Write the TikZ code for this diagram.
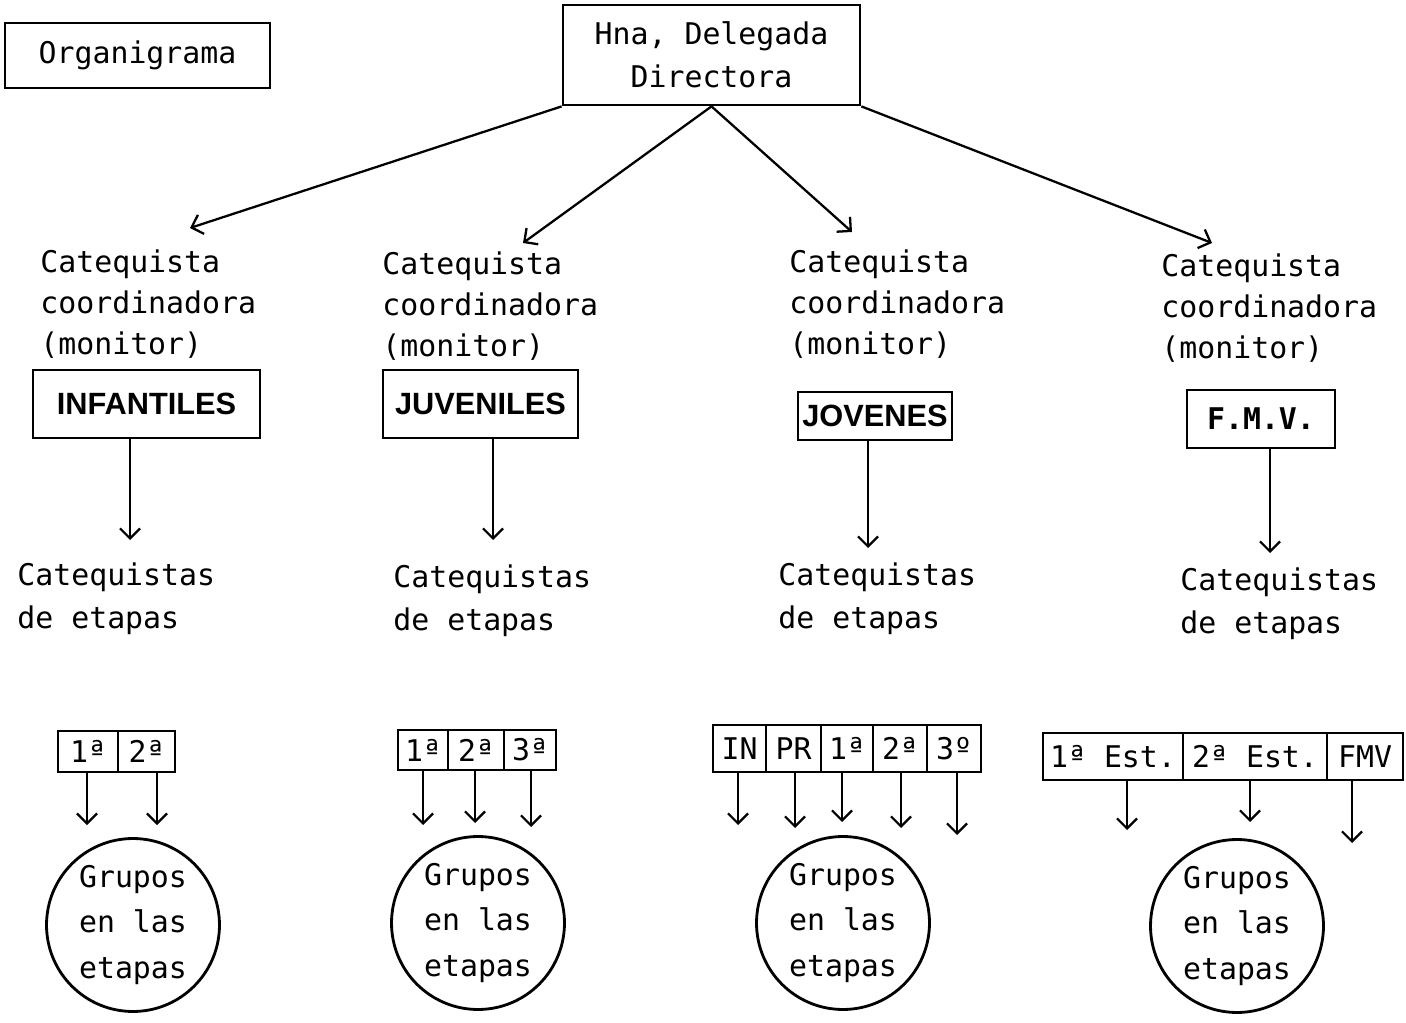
\documentclass[tikz,border=0pt]{standalone}
\usepackage{fontspec}
\setmainfont{DejaVu Sans Mono}
\newfontfamily\catfont{Liberation Sans}
\usetikzlibrary{arrows.meta}
\tikzset{
 txt/.style={inner sep=0pt, anchor=north west, align=left, font=\fontsize{17}{23.4}\selectfont},
 boxnode/.style={draw, line width=1.6pt, inner sep=0pt},
 catbox/.style={boxnode, font=\catfont\bfseries\fontsize{17.5}{20}\selectfont},
 cell/.style={boxnode, font=\fontsize{17}{20}\selectfont},
 grp/.style={circle, draw, line width=1.6pt, minimum size=3.46cm, inner sep=0pt, align=center, font=\fontsize{17}{26}\selectfont},
 arr/.style={line width=1.3pt, -{Straight Barb[length=0.2cm,width=0.4cm]}},
}
\begin{document}
\begin{tikzpicture}[x=0.02cm,y=-0.02cm]
\useasboundingbox (0,0) rectangle (1406,1023);
% top
\node[boxnode, minimum width=5.3cm, minimum height=1.3cm, font=\fontsize{17}{20}\selectfont] (org) at (137.5,55.5) {Organigrama};
\node[boxnode, minimum width=5.94cm, minimum height=2.0cm, align=center, font=\fontsize{17}{24.5}\selectfont] (dir) at (711.5,55) {Hna, Delegada\\Directora};
% arrow tips
\coordinate (a1) at (190,228);
\coordinate (a2) at (523,243);
\coordinate (a3) at (852,232);
\coordinate (a4) at (1212,243);
\draw[arr] (dir.south west) -- (a1);
\draw[arr] (dir.south) -- (a2);
\draw[arr] (dir.south) -- (a3);
\draw[arr] (dir.south east) -- (a4);
% catequista coordinadora
\node[txt] (c1) at (40,249) {Catequista\\coordinadora\\(monitor)};
\node[txt] (c2) at (382,251) {Catequista\\coordinadora\\(monitor)};
\node[txt] (c3) at (789,249) {Catequista\\coordinadora\\(monitor)};
\node[txt] (c4) at (1161,253) {Catequista\\coordinadora\\(monitor)};
% category boxes
\node[catbox, minimum width=4.54cm, minimum height=1.36cm] (b1) at (146.5,404) {INFANTILES};
\node[catbox, minimum width=3.9cm, minimum height=1.36cm] (b2) at (480.5,404) {JUVENILES};
\node[catbox, minimum width=3.08cm, minimum height=0.96cm] (b3) at (875,416) {JOVENES};
\node[boxnode, minimum width=2.96cm, minimum height=1.16cm, font=\bfseries\fontsize{17}{20}\selectfont] (b4) at (1261,419) {F.M.V.};
% arrows to catequistas de etapas
\coordinate (t1) at (130,540);
\coordinate (t2) at (493,540);
\coordinate (t3) at (868,548);
\coordinate (t4) at (1270,553);
\draw[arr] (b1.south -| t1) -- (t1);
\draw[arr] (b2.south -| t2) -- (t2);
\draw[arr] (b3.south -| t3) -- (t3);
\draw[arr] (b4.south -| t4) -- (t4);
% catequistas de etapas
\node[txt, font=\fontsize{17}{25}\selectfont] (e1) at (17,562) {Catequistas\\de etapas};
\node[txt, font=\fontsize{17}{25}\selectfont] (e2) at (393,564) {Catequistas\\de etapas};
\node[txt, font=\fontsize{17}{25}\selectfont] (e3) at (778,562) {Catequistas\\de etapas};
\node[txt, font=\fontsize{17}{25}\selectfont] (e4) at (1180,567) {Catequistas\\de etapas};
% stage cells col1
\node[cell, minimum width=1.2cm, minimum height=0.82cm] (s11) at (88,751.5) {1ª};
\node[cell, minimum width=1.14cm, minimum height=0.82cm] (s12) at (146.5,751.5) {2ª};
% col2
\node[cell, minimum width=1.0cm, minimum height=0.8cm] (s21) at (423,750) {1ª};
\node[cell, minimum width=1.12cm, minimum height=0.8cm] (s22) at (476,750) {2ª};
\node[cell, minimum width=1.04cm, minimum height=0.8cm] (s23) at (530,750) {3ª};
% col3
\node[cell, minimum width=1.06cm, minimum height=0.94cm] (s31) at (739.5,748.5) {IN};
\node[cell, minimum width=1.1cm, minimum height=0.94cm] (s32) at (793.5,748.5) {PR};
\node[cell, minimum width=1.04cm, minimum height=0.94cm] (s33) at (847,748.5) {1ª};
\node[cell, minimum width=1.08cm, minimum height=0.94cm] (s34) at (900,748.5) {2ª};
\node[cell, minimum width=1.08cm, minimum height=0.94cm] (s35) at (954,748.5) {3º};
% col4
\node[cell, minimum width=2.8cm, minimum height=0.94cm] (s41) at (1113,756.5) {1ª Est.};
\node[cell, minimum width=2.88cm, minimum height=0.94cm] (s42) at (1255,756.5) {2ª Est.};
\node[cell, minimum width=1.52cm, minimum height=0.94cm] (s43) at (1365,756.5) {FMV};
% stage arrows
\coordinate (p11) at (87,825);
\coordinate (p12) at (157,825);
\coordinate (p21) at (423,825);
\coordinate (p22) at (475,823);
\coordinate (p23) at (531,827);
\coordinate (p31) at (738,825);
\coordinate (p32) at (795,828);
\coordinate (p33) at (842,822);
\coordinate (p34) at (901,828);
\coordinate (p35) at (957,835);
\coordinate (p41) at (1127,830);
\coordinate (p42) at (1250,822);
\coordinate (p43) at (1352,843);
\draw[arr] (s11.south -| p11) -- (p11);
\draw[arr] (s12.south -| p12) -- (p12);
\draw[arr] (s21.south -| p21) -- (p21);
\draw[arr] (s22.south -| p22) -- (p22);
\draw[arr] (s23.south -| p23) -- (p23);
\draw[arr] (s31.south -| p31) -- (p31);
\draw[arr] (s32.south -| p32) -- (p32);
\draw[arr] (s33.south -| p33) -- (p33);
\draw[arr] (s34.south -| p34) -- (p34);
\draw[arr] (s35.south -| p35) -- (p35);
\draw[arr] (s41.south -| p41) -- (p41);
\draw[arr] (s42.south -| p42) -- (p42);
\draw[arr] (s43.south -| p43) -- (p43);
% groups
\node[grp] (g1) at (133,925) {Grupos\\en las\\etapas};
\node[grp] (g2) at (478,923) {Grupos\\en las\\etapas};
\node[grp] (g3) at (843,923) {Grupos\\en las\\etapas};
\node[grp] (g4) at (1237,926) {Grupos\\en las\\etapas};
\end{tikzpicture}
\end{document}
